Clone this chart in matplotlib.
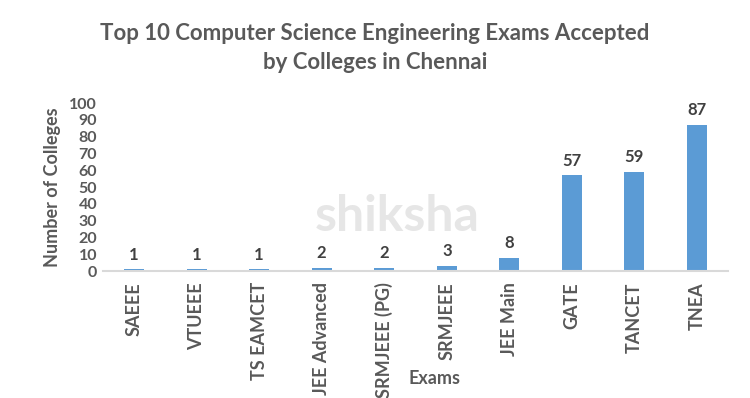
import matplotlib
matplotlib.use("Agg")
import matplotlib.pyplot as plt

exams = ["SAEEE", "VTUEEE", "TS EAMCET", "JEE Advanced", "SRMJEEE (PG)",
         "SRMJEEE", "JEE Main", "GATE", "TANCET", "TNEA"]
colleges = [1, 1, 1, 2, 2, 3, 8, 57, 59, 87]
yticks = list(range(0, 101, 10))

plt.rcParams["font.family"] = ["Lato", "DejaVu Sans"]
TXT = "#595959"

fig = plt.figure(figsize=(7.5, 3.98), dpi=100)
ax = fig.add_axes([0.137, 0.319, 0.834, 0.422])

x = range(len(exams))
ax.bar(x, colleges, width=0.32, color="#5B9BD5", zorder=2)
for i, v in zip(x, colleges):
    ax.text(i, v + 4, str(v), ha="center", va="bottom", fontsize=12,
            fontweight="bold", color="#404040")

ax.set_xlim(-0.5, len(exams) - 0.5)
ax.set_ylim(0, 100)
ax.set_yticks(yticks)
ax.set_yticklabels([str(t) for t in yticks], fontsize=11.5, fontweight="bold", color=TXT)
ax.set_xticks(list(x))
ax.set_xticklabels(exams, rotation=90, fontsize=13, fontweight="bold", color=TXT)
ax.tick_params(length=0, pad=8)
ax.tick_params(axis="y", pad=4)

for s in ["top", "right", "left"]:
    ax.spines[s].set_visible(False)
ax.spines["bottom"].set_color("#D9D9D9")
ax.spines["bottom"].set_linewidth(1.5)

ax.set_ylabel("Number of Colleges", fontsize=13, fontweight="bold", color=TXT, labelpad=6)
fig.text(0.58, 0.05, "Exams", ha="center", va="center", fontsize=13,
         fontweight="bold", color=TXT)

fig.text(0.5, 0.88, "Top 10 Computer Science Engineering Exams Accepted\nby Colleges in Chennai",
         ha="center", va="center", fontsize=16, fontweight="bold", color=TXT,
         linespacing=1.45)

# faint watermark
fig.text(0.53, 0.455, "shiksha", ha="center", va="center", fontsize=36,
         fontweight="bold", color="#C8C8C8", alpha=0.45, zorder=0)

fig.savefig("out.png", dpi=100, facecolor="white")
